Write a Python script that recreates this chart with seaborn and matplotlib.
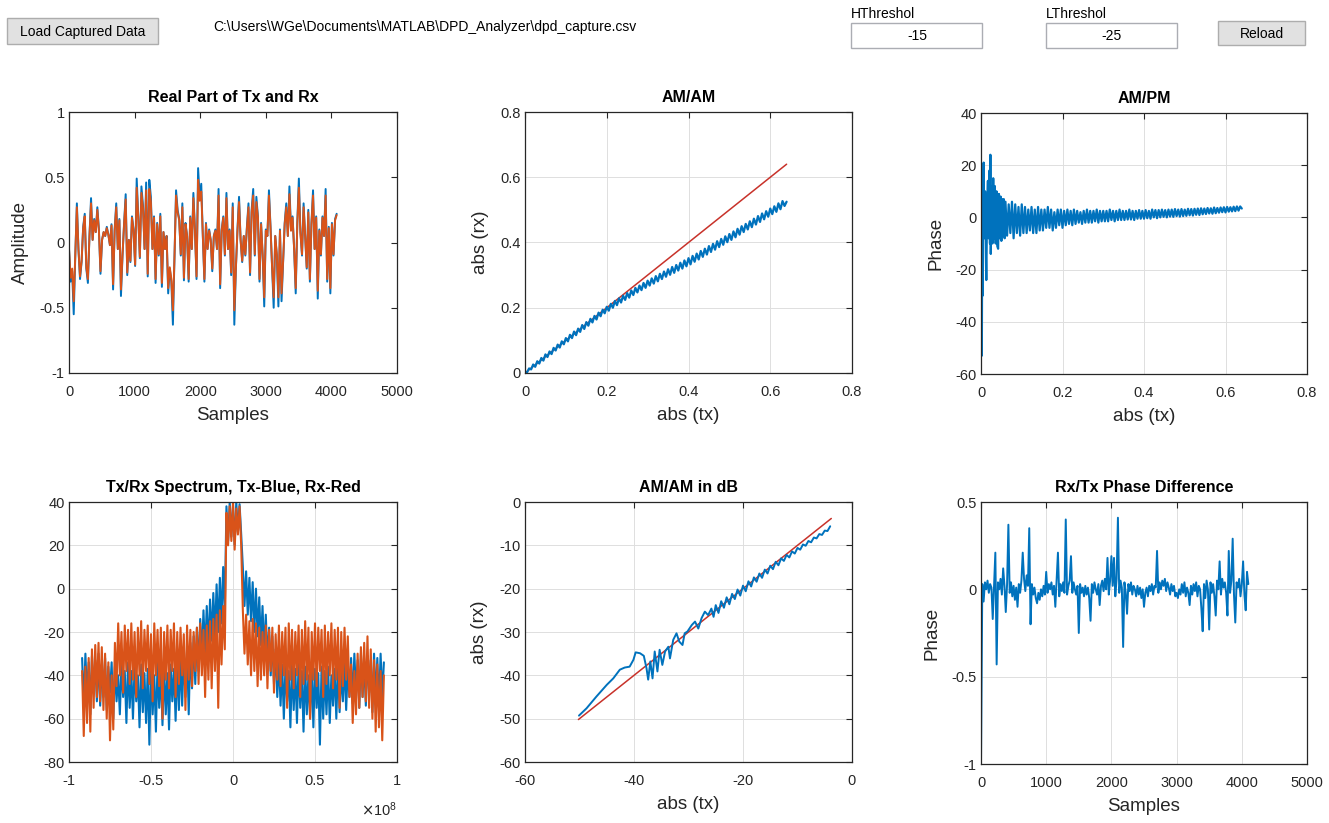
import numpy as np
import seaborn as sns
import matplotlib
matplotlib.use("Agg")
import matplotlib.pyplot as plt
from matplotlib import ticker
from matplotlib.patches import Rectangle

# ---------------- data ----------------
# Real part of Tx / Rx (one value every 24 samples)
real_step = 24
tx_real = [-0.05,-0.30,-0.22,-0.55,-0.10,0.30,-0.05,-0.28,-0.15,0.12,
           0.22,-0.20,-0.31,0.05,0.34,0.02,0.18,0.08,0.27,0.10,
           -0.24,0.02,0.08,0.05,0.12,0.06,-0.02,0.14,-0.36,0.10,
           0.30,-0.05,0.18,-0.41,-0.10,0.15,0.37,-0.25,0.02,-0.15,
           0.20,0.10,-0.18,0.49,0.20,-0.12,0.43,0.28,-0.05,0.46,
           -0.26,0.48,0.35,-0.05,0.20,-0.31,0.15,-0.10,0.22,-0.34,
           0.08,-0.05,0.05,-0.39,-0.20,-0.30,-0.63,-0.12,0.40,0.25,
           0.18,-0.10,0.30,-0.29,0.15,0.05,-0.30,0.20,-0.05,0.38,
           0.10,-0.28,0.57,0.35,0.45,0.05,-0.30,0.15,-0.05,0.10,
           0.02,-0.22,0.05,0.10,-0.05,0.41,-0.35,0.10,0.20,-0.10,
           0.38,-0.05,0.10,-0.25,0.30,-0.63,-0.20,0.10,0.35,0.02,
           -0.15,0.05,-0.10,0.12,0.30,-0.25,0.25,0.41,-0.10,0.35,
           0.20,-0.30,0.15,-0.10,-0.49,0.10,0.05,0.40,0.12,-0.20,
           -0.50,0.05,-0.10,-0.49,0.10,-0.45,-0.15,0.15,0.30,0.05,
           0.43,0.10,0.20,-0.05,-0.39,0.15,0.49,0.08,-0.10,0.30,
           0.05,-0.20,0.25,-0.30,0.15,0.40,-0.05,0.20,-0.43,0.10,
           -0.10,0.20,0.05,0.41,-0.30,0.12,-0.39,0.15,-0.10,0.18,0.22]
rx_real = [-0.05,-0.27,-0.20,-0.45,-0.10,0.27,-0.05,-0.26,-0.14,0.11,
           0.20,-0.19,-0.28,0.05,0.30,0.02,0.17,0.08,0.25,0.09,
           -0.22,0.02,0.08,0.05,0.11,0.06,-0.02,0.13,-0.32,0.09,
           0.27,-0.05,0.17,-0.36,-0.09,0.14,0.33,-0.23,0.02,-0.14,
           0.19,0.09,-0.17,0.42,0.19,-0.11,0.38,0.26,-0.05,0.40,
           -0.24,0.41,0.31,-0.05,0.19,-0.28,0.14,-0.09,0.20,-0.31,
           0.08,-0.05,0.05,-0.35,-0.19,-0.28,-0.52,-0.11,0.36,0.23,
           0.17,-0.09,0.27,-0.27,0.14,0.05,-0.28,0.19,-0.05,0.34,
           0.09,-0.26,0.48,0.32,0.39,0.05,-0.28,0.14,-0.05,0.09,
           0.02,-0.20,0.05,0.09,-0.05,0.36,-0.32,0.09,0.19,-0.09,
           0.34,-0.05,0.09,-0.23,0.27,-0.52,-0.19,0.09,0.31,0.02,
           -0.14,0.05,-0.09,0.11,0.27,-0.23,0.23,0.36,-0.09,0.31,
           0.19,-0.28,0.14,-0.09,-0.42,0.09,0.05,0.36,0.11,-0.19,
           -0.42,0.05,-0.09,-0.42,0.09,-0.39,-0.14,0.14,0.27,0.05,
           0.37,0.09,0.19,-0.05,-0.35,0.14,0.42,0.07,-0.09,0.27,
           0.05,-0.19,0.23,-0.28,0.14,0.36,-0.05,0.19,-0.37,0.09,
           -0.09,0.19,0.05,0.36,-0.28,0.11,-0.35,0.14,-0.09,0.17,0.21]

# AM/AM: abs(rx) against sorted abs(tx) (tx grid step 0.005 from 0)
amam_step = 0.005
amam_rx = [0.003,0.002,0.014,0.011,0.026,0.019,0.036,0.029,0.046,0.038,
           0.057,0.049,0.066,0.058,0.077,0.069,0.087,0.078,0.097,0.088,
           0.107,0.097,0.117,0.107,0.127,0.116,0.136,0.126,0.147,0.135,
           0.156,0.145,0.166,0.155,0.175,0.164,0.185,0.174,0.194,0.183,
           0.203,0.191,0.212,0.200,0.221,0.208,0.229,0.216,0.237,0.224,
           0.245,0.231,0.253,0.239,0.261,0.247,0.268,0.254,0.276,0.261,
           0.283,0.268,0.290,0.274,0.297,0.281,0.304,0.288,0.311,0.295,
           0.318,0.301,0.325,0.307,0.331,0.314,0.338,0.320,0.345,0.327,
           0.352,0.333,0.359,0.341,0.366,0.348,0.374,0.356,0.381,0.363,
           0.389,0.371,0.396,0.378,0.404,0.386,0.411,0.393,0.419,0.401,
           0.426,0.408,0.434,0.416,0.442,0.424,0.450,0.432,0.457,0.440,
           0.465,0.447,0.473,0.455,0.481,0.463,0.489,0.471,0.496,0.479,
           0.504,0.487,0.511,0.494,0.520,0.502,0.527,0.512,0.525]
ideal_x = [0.0, 0.64]
ideal_y = [0.0, 0.64]

# AM/PM
ampm_head_amp = [0.001,0.002,0.003,0.004,0.005,0.0065,0.008,0.010,0.012,0.013,
                 0.015,0.017,0.019,0.021,0.022,0.023,0.024,0.026,0.028,0.030,
                 0.032,0.034,0.036,0.038,0.040,0.042,0.044,0.046,0.048,0.050,
                 0.052,0.054,0.056,0.058]
ampm_head_phase = [0,-53,-5,-30,5,21,-8,10,-15,-24,
                   5,14,-8,18,-10,24,-14,12,-10,15,
                   -8,12,-10,10,-11,-12,9,-8,8,-9,
                   7,-7,7,-8]
ampm_tail_start = 0.06
ampm_tail_step = 0.004
ampm_tail_phase = [6,-7,5,-6,6,-8,5,-6,4,-7,5,-6,
                   4,-6,3,-5,4,-6,3,-6,4,-5,3,-5,
                   3,-4,4,-4,3,-5,2,-4,3,-3,3,-4,
                   2.5,-3,3,-2.5,2.5,-3,3,-2.5,2.5,-2,2,-2.5,
                   2.5,-2,3,-2,2.5,-2,2.5,-1.5,3,-2,2.5,-1.5,
                   2.5,-1.5,2.5,-1.5,3,-1,2.5,-1.5,2.5,-1,3,-1,
                   2.5,-1,2.5,-0.8,3,-0.8,2.5,-1,2.5,-0.5,2.8,-0.5,
                   2.5,-0.5,2.8,-0.3,2.5,-0.5,3,0,2.8,-0.3,2.8,0,
                   3,0.2,2.8,0,3,0.3,3,0.2,3.2,0.5,3,0.3,
                   3.2,0.5,3,0.6,3.3,0.8,3.2,0.7,3.3,1,3.4,0.9,
                   3.5,1.2,3.4,1.3,3.6,1.5,3.5,1.4,3.8,1.6,3.6,1.8,
                   3.8,2,3.9,1.9,4,2.2,3.9,2.3,4.1,2.4,4.2,2.6,
                   4.2,3.4]

# Spectrum (frequency grid from -0.92e8 Hz, step 1e6 Hz), dB
freq_start = -0.92e8
freq_step = 1.0e6
spec_tx = [-32,-55,-30,-50,-34,-58,-31,-48,-33,-52,
           -30,-54,-35,-50,-32,-56,-36,-48,-34,-60,
           -36,-52,-40,-58,-35,-50,-38,-62,-34,-55,
           -38,-60,-36,-52,-40,-64,-35,-57,-39,-62,
           -37,-72,-36,-58,-40,-66,-34,-55,-38,-63,
           -36,-58,-39,-65,-35,-52,-37,-61,-34,-56,
           -32,-54,-30,-50,-28,-58,-25,-46,-22,-44,
           -18,-38,-14,-32,-10,-30,-8,-28,-5,-24,
           -2,-22,2,-20,5,-16,10,-10,38,22,
           40,24,38,20,40,26,39,25,10,-8,
           8,-12,5,-15,3,-20,0,-22,-4,-26,
           -8,-30,-12,-34,-18,-40,-22,-44,-28,-50,
           -32,-54,-35,-60,-36,-52,-38,-64,-35,-56,
           -37,-62,-34,-55,-38,-66,-36,-58,-40,-60,
           -35,-64,-37,-55,-39,-72,-36,-60,-38,-58,
           -36,-62,-40,-54,-37,-60,-35,-57,-38,-52,
           -34,-56,-36,-50,-32,-53,-30,-48,-33,-55,
           -30,-50,-34,-54,-31,-48,-33,-57,-30,-52,
           -32,-55,-30,-50,-34]
spec_rx = [-38,-68,-36,-62,-32,-66,-28,-55,-26,-50,
           -25,-52,-27,-56,-30,-60,-34,-70,-40,-65,
           -25,-45,-16,-40,-20,-48,-17,-38,-19,-44,
           -16,-42,-20,-50,-18,-40,-15,-46,-19,-38,
           -17,-44,-21,-52,-16,-40,-19,-45,-18,-60,
           -20,-42,-17,-46,-19,-38,-16,-50,-20,-44,
           -18,-40,-21,-56,-17,-42,-19,-45,-20,-38,
           -18,-44,-16,-40,-19,-50,-17,-42,-15,-46,
           -14,-38,-12,-55,-10,-35,-8,-28,35,20,
           38,22,40,18,37,25,38,20,-10,-30,
           -12,-35,-15,-40,-14,-38,-16,-45,-18,-42,
           -20,-40,-17,-46,-19,-38,-18,-48,-21,-42,
           -17,-45,-20,-40,-18,-55,-16,-42,-19,-46,
           -20,-40,-17,-50,-19,-44,-15,-42,-18,-60,
           -20,-42,-16,-45,-18,-38,-19,-50,-17,-44,
           -20,-40,-16,-46,-19,-42,-18,-55,-20,-45,
           -18,-42,-22,-50,-35,-62,-38,-58,-30,-55,
           -27,-50,-25,-52,-22,-55,-28,-60,-33,-66,
           -35,-64,-38,-70,-40]
spec_offset_label = r"$\times\mathdefault{10^{8}}$"

# AM/AM in dB
db_tx = [-50.1,-48.7,-46.9,-45.0,-43.8,-42.6,-41.7,-40.8,-40.1,-39.7,
         -38.9,-38.2,-37.7,-37.4,-37.0,-36.6,-36.2,-35.7,-35.3,-34.8,
         -34.3,-33.7,-33.4,-32.8,-32.2,-31.7,-31.1,-30.7,-30.2,-29.4,
         -28.8,-28.2,-27.6,-27.0,-26.4,-25.8,-25.4,
         -25.0,-24.5,-24.0,-23.5,-23.0,-22.5,-22.0,-21.5,-21.0,-20.5,
         -20.0,-19.5,-19.0,-18.5,-18.0,-17.5,-17.0,-16.5,-16.0,-15.5,
         -15.0,-14.5,-14.0,-13.5,-13.0,-12.5,-12.0,-11.5,-11.0,-10.5,
         -10.0,-9.5,-9.0,-8.5,-8.0,-7.5,-7.0,-6.5,-6.0,-5.5,-5.0,-4.5,-4.0]
db_rx = [-49.3,-47.6,-44.9,-42.2,-40.7,-38.7,-38.2,-38.0,-36.4,-34.7,
         -34.9,-35.5,-38.4,-41.0,-36.8,-40.7,-34.5,-39.1,-34.1,-37.6,
         -34.5,-33.4,-36.1,-31.8,-30.3,-32.2,-33.0,-30.3,-29.9,-28.4,
         -27.6,-29.2,-26.8,-25.3,-26.1,-24.6,-26.5,
         -23.8,-25.6,-22.9,-24.4,-22.0,-23.6,-21.2,-22.4,-20.2,-21.6,
         -19.3,-20.6,-18.3,-19.5,-17.4,-18.4,-16.5,-17.5,-15.6,-16.5,
         -14.7,-15.5,-13.8,-14.6,-13.0,-13.6,-12.2,-12.8,-11.4,-11.9,
         -10.6,-11.0,-9.8,-10.1,-9.0,-9.3,-8.2,-8.4,-7.4,-7.6,-6.6,-6.7,-5.6]
db_ideal = [-50.2, -3.8]

# Rx/Tx phase difference (one value every 20 samples)
phase_step = 20
phase_diff = [-1.0,0.03,-0.07,0.04,0.00,0.05,-0.02,0.03,0.01,-0.17,
              0.02,0.21,-0.43,0.04,0.00,0.06,-0.03,0.12,0.02,-0.13,
              0.03,0.37,-0.02,0.04,-0.04,0.02,-0.06,0.01,-0.10,0.03,
              -0.02,0.05,0.21,0.06,-0.01,0.08,0.02,0.35,-0.20,0.03,
              -0.03,0.01,-0.05,-0.08,-0.02,-0.06,0.00,-0.04,0.02,-0.03,
              0.10,-0.02,0.03,0.00,0.04,-0.03,0.02,-0.10,0.05,0.21,
              -0.04,0.03,-0.01,0.04,-0.02,0.40,-0.03,0.02,0.05,0.19,
              -0.02,0.04,0.00,-0.03,0.02,-0.25,0.03,-0.02,0.01,-0.04,
              0.02,-0.03,0.01,-0.05,-0.18,0.03,-0.02,0.04,0.00,-0.03,
              0.03,-0.09,0.02,0.05,-0.01,0.06,0.00,0.18,-0.03,0.05,
              0.19,0.02,0.18,-0.04,0.06,0.41,-0.02,0.05,0.01,-0.33,
              0.04,-0.02,-0.14,0.03,-0.01,0.04,-0.03,0.02,0.00,-0.04,
              0.02,-0.03,0.01,-0.05,0.00,-0.10,-0.02,0.01,-0.04,0.02,
              -0.01,0.03,-0.03,0.02,0.01,0.22,-0.02,0.04,0.00,0.05,
              0.02,0.06,-0.01,0.04,0.01,-0.03,0.03,-0.01,0.02,-0.04,
              -0.02,-0.05,0.00,-0.03,0.03,-0.02,0.04,-0.04,0.01,-0.02,
              -0.09,0.02,-0.03,0.03,-0.01,0.04,-0.04,0.02,0.00,-0.11,
              -0.24,0.03,-0.05,0.05,0.00,-0.23,0.04,-0.02,0.03,-0.04,
              -0.15,0.05,0.00,0.16,-0.03,0.06,0.01,0.04,-0.02,-0.15,
              0.22,-0.02,0.05,0.29,-0.03,-0.19,0.04,0.01,0.06,-0.04,
              0.03,0.16,-0.03,-0.12,0.10,0.03]

# ---------------- style ----------------
BLUE = "#0072BD"
ORANGE = "#D95319"
RED = "#C8322A"
DARK = "#262626"

sns.set_theme(style="white", rc={
    "xtick.direction": "in", "ytick.direction": "in",
    "xtick.top": True, "ytick.right": True,
    "axes.unicode_minus": False,
})
plt.rcParams["font.family"] = ["Liberation Sans", "DejaVu Sans"]
plt.rcParams["axes.unicode_minus"] = False

W, H = 1329, 823
fig = plt.figure(figsize=(W / 100, H / 100), dpi=100, facecolor="white")


def box(px):
    l, r, t, b = px
    return [l / W, 1 - b / H, (r - l) / W, (b - t) / H]


def fmt_g(v, p):
    return f"{v:g}"


def style(ax, title, xlabel, ylabel, xlim, xticks, ylim, yticks, grid=True):
    ax.set_xlim(xlim)
    ax.set_ylim(ylim)
    ax.set_xticks(xticks)
    ax.set_yticks(yticks)
    ax.xaxis.set_major_formatter(ticker.FuncFormatter(fmt_g))
    ax.yaxis.set_major_formatter(ticker.FuncFormatter(fmt_g))
    ax.set_title(title, fontsize=11.5, fontweight="bold", color="black", pad=7)
    ax.set_xlabel(xlabel, fontsize=13.5, color=DARK, labelpad=6)
    ax.set_ylabel(ylabel, fontsize=13.5, color=DARK, labelpad=8)
    ax.tick_params(axis="both", direction="in", top=True, right=True,
                   length=4, width=0.8, labelsize=10.5, colors=DARK)
    ax.tick_params(axis="x", pad=8.5)
    ax.tick_params(axis="y", pad=3)
    for s in ax.spines.values():
        s.set_color(DARK)
        s.set_linewidth(0.9)
        s.set_visible(True)
    if grid:
        ax.grid(True, color="#dedede", linewidth=0.7)
    else:
        ax.grid(False)
    ax.set_axisbelow(True)


def line(ax, x, y, color, lw=1.3):
    sns.lineplot(x=np.asarray(x, dtype=float), y=np.asarray(y, dtype=float),
                 ax=ax, color=color, linewidth=lw, sort=False,
                 estimator=None, legend=False)


# --- Real part ---
ax1 = fig.add_axes(box((69, 397, 112, 373)))
line(ax1, np.arange(len(tx_real)) * real_step, tx_real, BLUE, 1.4)
line(ax1, np.arange(len(rx_real)) * real_step, rx_real, ORANGE, 1.4)
style(ax1, "Real Part of Tx and Rx", "Samples", "Amplitude",
      (0, 5000), [0, 1000, 2000, 3000, 4000, 5000],
      (-1, 1), [-1, -0.5, 0, 0.5, 1], grid=False)

# --- AM/AM ---
ax2 = fig.add_axes(box((525, 852, 112, 373)))
line(ax2, ideal_x, ideal_y, RED, 1.1)
line(ax2, np.arange(len(amam_rx)) * amam_step, amam_rx, BLUE, 1.6)
style(ax2, "AM/AM", "abs (tx)", "abs (rx)",
      (0, 0.8), [0, 0.2, 0.4, 0.6, 0.8],
      (0, 0.8), [0, 0.2, 0.4, 0.6, 0.8])

# --- AM/PM ---
ax3 = fig.add_axes(box((981, 1307, 113, 374)))
ampm_amp = np.concatenate([ampm_head_amp,
                           ampm_tail_start + ampm_tail_step * np.arange(len(ampm_tail_phase))])
ampm_phase = np.concatenate([ampm_head_phase, ampm_tail_phase])
line(ax3, ampm_amp, ampm_phase, BLUE, 1.6)
style(ax3, "AM/PM", "abs (tx)", "Phase",
      (0, 0.8), [0, 0.2, 0.4, 0.6, 0.8],
      (-60, 40), [-60, -40, -20, 0, 20, 40])

# --- Spectrum ---
ax4 = fig.add_axes(box((69, 397, 502, 762)))
line(ax4, freq_start + freq_step * np.arange(len(spec_tx)), spec_tx, BLUE, 1.5)
line(ax4, freq_start + freq_step * np.arange(len(spec_rx)), spec_rx, ORANGE, 1.5)
style(ax4, "Tx/Rx Spectrum, Tx-Blue, Rx-Red", "", "",
      (-1e8, 1e8), [-1e8, -0.5e8, 0, 0.5e8, 1e8],
      (-80, 40), [-80, -60, -40, -20, 0, 20, 40])
ax4.xaxis.set_major_formatter(ticker.FuncFormatter(lambda v, p: f"{v / 1e8:g}"))
ax4.text(1.0, -0.185, spec_offset_label, transform=ax4.transAxes,
         ha="right", va="center", fontsize=10.5, color=DARK)

# --- AM/AM in dB ---
ax5 = fig.add_axes(box((525, 852, 502, 762)))
n = min(len(db_tx), len(db_rx))
line(ax5, db_ideal, db_ideal, RED, 1.1)
line(ax5, db_tx[:n], db_rx[:n], BLUE, 1.4)
style(ax5, "AM/AM in dB", "abs (tx)", "abs (rx)",
      (-60, 0), [-60, -40, -20, 0],
      (-60, 0), [-60, -50, -40, -30, -20, -10, 0])

# --- Phase difference ---
ax6 = fig.add_axes(box((981, 1307, 502, 764)))
line(ax6, np.arange(len(phase_diff)) * phase_step, phase_diff, BLUE, 1.4)
style(ax6, "Rx/Tx Phase Difference", "Samples", "Phase",
      (0, 5000), [0, 1000, 2000, 3000, 4000, 5000],
      (-1, 0.5), [-1, -0.5, 0, 0.5])

# ---------------- GUI strip ----------------
def rect(x0, y0, x1, y1, fc, ec):
    fig.add_artist(Rectangle((x0 / W, 1 - y1 / H), (x1 - x0) / W, (y1 - y0) / H,
                             transform=fig.transFigure, facecolor=fc,
                             edgecolor=ec, linewidth=1.0))


def label(x, y, s, ha="left", size=10):
    fig.text(x / W, 1 - y / H, s, ha=ha, va="center", fontsize=size, color="black")


rect(7, 18, 158, 44, "#e1e1e1", "#adadad")
label(83, 32, "Load Captured Data", ha="center")
label(213, 27, r"C:\Users\WGe\Documents\MATLAB\DPD_Analyzer\dpd_capture.csv")
label(851, 14, "HThreshol")
rect(851, 23, 982, 48, "white", "#abadb3")
label(917, 36, "-15", ha="center")
label(1046, 14, "LThreshol")
rect(1046, 23, 1177, 48, "white", "#abadb3")
label(1112, 36, "-25", ha="center")
rect(1218, 21, 1305, 45, "#e1e1e1", "#adadad")
label(1262, 34, "Reload", ha="center")

fig.savefig("out.png", dpi=100, facecolor="white")
